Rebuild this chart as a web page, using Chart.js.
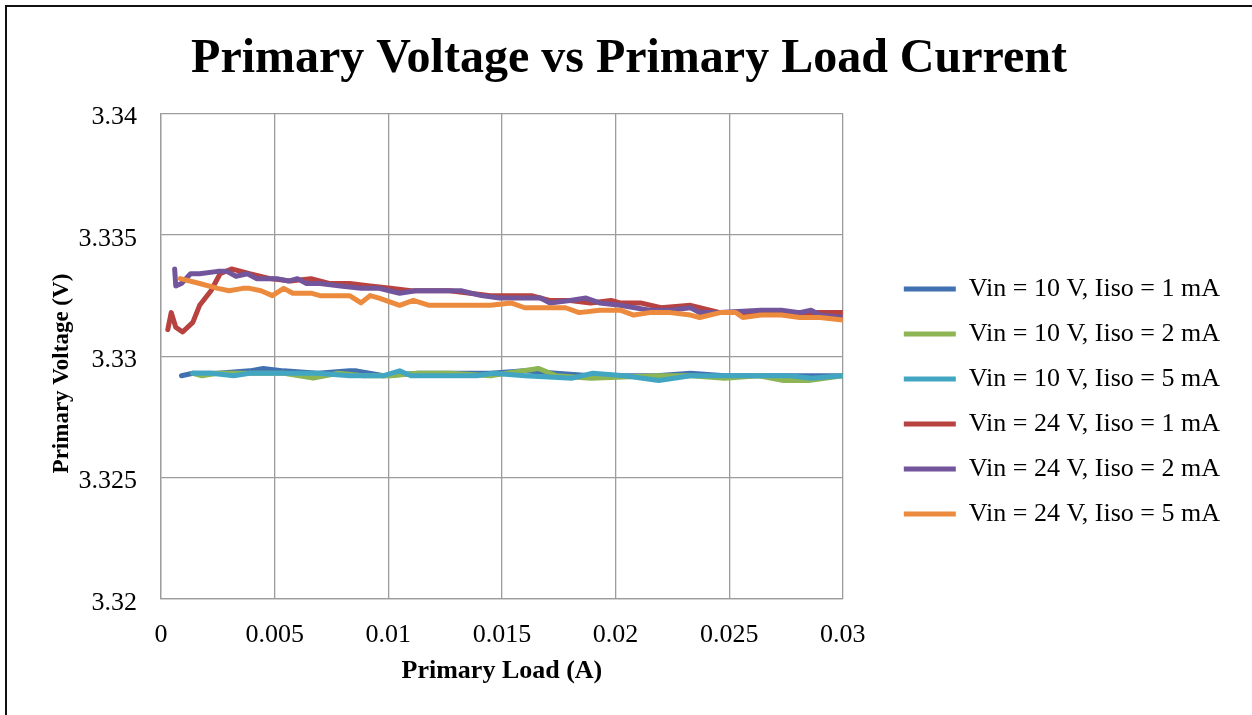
<!DOCTYPE html>
<html>
<head>
<meta charset="utf-8">
<title>Primary Voltage vs Primary Load Current</title>
<script src="https://cdn.jsdelivr.net/npm/chart.js@4"></script>
<style>
  html, body { margin: 0; padding: 0; background: #fff; overflow: hidden; }
  #frame { position: absolute; left: 5px; top: 5px; width: 1400px; height: 900px;
           border-left: 2px solid #111; border-top: 2px solid #111; }
  #wrap { position: absolute; left: 0; top: 0; width: 1252px; height: 715px; }
</style>
</head>
<body>
<div id="frame"></div>
<div id="wrap"><canvas id="chart" width="1252" height="715"></canvas></div>
<script>
// measured primary rail vs load current, one pair of arrays per test condition
const load10v1 = [0.0009, 0.0014, 0.0025, 0.0039, 0.0045, 0.0054, 0.0069, 0.0083, 0.0086, 0.0098, 0.0113, 0.0127, 0.0145, 0.016, 0.0174, 0.0189, 0.0204, 0.0218, 0.0233, 0.0248, 0.0263, 0.0277, 0.0292, 0.03];
const volt10v1 = [3.3292, 3.3293, 3.3293, 3.3294, 3.3295, 3.3294, 3.3293, 3.3294, 3.3294, 3.3292, 3.3293, 3.3293, 3.3293, 3.3294, 3.3293, 3.3292, 3.3292, 3.3292, 3.3293, 3.3292, 3.3292, 3.3292, 3.3292, 3.3292];

const load10v2 = [0.0014, 0.0018, 0.0025, 0.0039, 0.0054, 0.0067, 0.0078, 0.0089, 0.0101, 0.0113, 0.0127, 0.0145, 0.0166, 0.0174, 0.0189, 0.0218, 0.0233, 0.0248, 0.0263, 0.0274, 0.0285, 0.03];
const volt10v2 = [3.3293, 3.3292, 3.3293, 3.3293, 3.3293, 3.3291, 3.3293, 3.3292, 3.3292, 3.3293, 3.3293, 3.3292, 3.3295, 3.3292, 3.3291, 3.3292, 3.3292, 3.3291, 3.3292, 3.3290, 3.3290, 3.3292];

const load10v5 = [0.0014, 0.0022, 0.0032, 0.0039, 0.0054, 0.0069, 0.0083, 0.0098, 0.0105, 0.011, 0.0127, 0.0139, 0.0146, 0.016, 0.0181, 0.019, 0.0204, 0.0219, 0.0233, 0.0248, 0.0263, 0.0277, 0.0286, 0.03];
const volt10v5 = [3.3293, 3.3293, 3.3292, 3.3293, 3.3293, 3.3293, 3.3292, 3.3292, 3.3294, 3.3292, 3.3292, 3.3292, 3.3293, 3.3292, 3.3291, 3.3293, 3.3292, 3.3290, 3.3292, 3.3292, 3.3292, 3.3292, 3.3291, 3.3292];

const load24v1 = [0.0003, 0.00045, 0.00065, 0.00095, 0.0014, 0.0017, 0.0022, 0.0026, 0.0031, 0.0039, 0.0048, 0.0057, 0.0066, 0.0074, 0.0083, 0.0092, 0.0101, 0.011, 0.0118, 0.0127, 0.0136, 0.0145, 0.0154, 0.0163, 0.0171, 0.018, 0.0189, 0.0198, 0.0202, 0.0211, 0.022, 0.0233, 0.0246, 0.0264, 0.0281, 0.029, 0.03];
const volt24v1 = [3.3311, 3.3318, 3.3312, 3.3310, 3.3314, 3.3321, 3.3327, 3.3334, 3.3336, 3.3334, 3.3332, 3.3331, 3.3332, 3.3330, 3.3330, 3.3329, 3.3328, 3.3327, 3.3327, 3.3327, 3.3326, 3.3325, 3.3325, 3.3325, 3.3323, 3.3323, 3.3322, 3.3323, 3.3322, 3.3322, 3.3320, 3.3321, 3.3318, 3.3318, 3.3318, 3.3318, 3.3318];

const load24v2 = [0.0006, 0.00065, 0.0009, 0.0013, 0.0017, 0.0025, 0.0029, 0.0033, 0.0038, 0.0042, 0.0047, 0.0051, 0.0056, 0.006, 0.0064, 0.007, 0.0079, 0.0088, 0.0096, 0.0105, 0.0112, 0.0123, 0.0132, 0.0141, 0.0149, 0.0158, 0.0167, 0.0171, 0.018, 0.0187, 0.0193, 0.0202, 0.0215, 0.0224, 0.0233, 0.0237, 0.0246, 0.0264, 0.0273, 0.0281, 0.0286, 0.029, 0.03];
const volt24v2 = [3.3336, 3.3329, 3.3330, 3.3334, 3.3334, 3.3335, 3.3335, 3.3333, 3.3334, 3.3332, 3.3332, 3.3332, 3.3331, 3.3332, 3.3330, 3.3330, 3.3329, 3.3328, 3.3328, 3.3326, 3.3327, 3.3327, 3.3327, 3.3325, 3.3324, 3.3324, 3.3324, 3.3322, 3.3323, 3.3324, 3.3322, 3.3321, 3.3319, 3.3319, 3.3320, 3.3318, 3.3318, 3.3319, 3.3319, 3.3318, 3.3319, 3.3317, 3.3316];

const load24v5 = [0.00085, 0.0017, 0.0025, 0.003, 0.0036, 0.0039, 0.0044, 0.0049, 0.0054, 0.0058, 0.0066, 0.007, 0.0083, 0.0088, 0.0092, 0.0096, 0.0105, 0.0111, 0.0118, 0.0132, 0.0145, 0.0154, 0.016, 0.0171, 0.0178, 0.0184, 0.0193, 0.0202, 0.0208, 0.0215, 0.0224, 0.0233, 0.0237, 0.0246, 0.0253, 0.0256, 0.0264, 0.0273, 0.0281, 0.029, 0.03];
const volt24v5 = [3.3332, 3.3330, 3.3328, 3.3327, 3.3328, 3.3328, 3.3327, 3.3325, 3.3328, 3.3326, 3.3326, 3.3325, 3.3325, 3.3322, 3.3325, 3.3324, 3.3321, 3.3323, 3.3321, 3.3321, 3.3321, 3.3322, 3.3320, 3.3320, 3.3320, 3.3318, 3.3319, 3.3319, 3.3317, 3.3318, 3.3318, 3.3317, 3.3316, 3.3318, 3.3318, 3.3316, 3.3317, 3.3317, 3.3316, 3.3316, 3.3315];

const seriesNames = [
  "Vin = 10 V, Iiso = 1 mA",
  "Vin = 10 V, Iiso = 2 mA",
  "Vin = 10 V, Iiso = 5 mA",
  "Vin = 24 V, Iiso = 1 mA",
  "Vin = 24 V, Iiso = 2 mA",
  "Vin = 24 V, Iiso = 5 mA"
];
const xTickLabels = ["0", "0.005", "0.01", "0.015", "0.02", "0.025", "0.03"];
const yTickLabels = ["3.32", "3.325", "3.33", "3.335", "3.34"];

const SERIF = "'Liberation Serif', 'Times New Roman', serif";
const colors = ["#4171b0", "#8db554", "#42a6c2", "#b7423f", "#72559a", "#ec8a3d"];
const loads = [load10v1, load10v2, load10v5, load24v1, load24v2, load24v5];
const volts = [volt10v1, volt10v2, volt10v5, volt24v1, volt24v2, volt24v5];

function pts(xs, ys) { return xs.map((x, i) => ({ x: x, y: ys[i] })); }

// reversed so the last series sits on top; legend flips it back
const datasets = seriesNames.map((name, i) => ({
  label: name,
  data: pts(loads[i], volts[i]),
  borderColor: colors[i],
  backgroundColor: colors[i],
  borderWidth: 5,
  borderCapStyle: "round",
  borderJoinStyle: "round",
  pointRadius: 0,
  tension: 0,
  fill: false
})).reverse();

const grid = { color: "#9c9c9c", lineWidth: 1.3, drawTicks: false };

new Chart(document.getElementById("chart"), {
  type: "line",
  data: { datasets },
  options: {
    responsive: false,
    animation: false,
    layout: { padding: { top: 10, left: 28, right: 22, bottom: 28 } },
    plugins: {
      title: {
        display: true,
        text: "Primary Voltage vs Primary Load Current",
        color: "#000",
        font: { family: SERIF, size: 48, weight: "bold" },
        padding: { top: 21, bottom: 25 }
      },
      legend: {
        position: "right",
        reverse: true,
        maxWidth: 400,
        title: { display: true, text: " ", font: { size: 10 }, padding: { top: 94, bottom: 0 } },
        labels: {
          usePointStyle: true,
          pointStyle: "line",
          pointStyleWidth: 52,
          padding: 19,
          color: "#000",
          font: { family: SERIF, size: 26 }
        }
      },
      tooltip: { enabled: false }
    },
    scales: {
      x: {
        type: "linear",
        min: 0,
        max: 0.03,
        grid: grid,
        border: { color: "#9c9c9c", width: 1.3 },
        ticks: {
          stepSize: 0.005,
          padding: 21,
          color: "#000",
          font: { family: SERIF, size: 26 },
          callback: (v, i) => xTickLabels[i]
        },
        title: {
          display: true,
          text: "Primary Load (A)",
          color: "#000",
          font: { family: SERIF, size: 26, weight: "bold" },
          padding: { top: 0, bottom: 0 }
        },
        afterFit: (s) => { s.height = 88; }
      },
      y: {
        type: "linear",
        min: 3.32,
        max: 3.34,
        grid: grid,
        border: { color: "#9c9c9c", width: 1.3 },
        ticks: {
          stepSize: 0.005,
          padding: 24,
          labelOffset: 4,
          color: "#000",
          font: { family: SERIF, size: 26 },
          callback: (v, i) => yTickLabels[i]
        },
        title: {
          display: true,
          // trailing spaces nudge the rotated caption down the axis
          text: "Primary Voltage (V)      ",
          color: "#000",
          font: { family: SERIF, size: 23, weight: "bold" },
          padding: { top: 20, bottom: 0 }
        },
        afterFit: (s) => { s.width = 133; }
      },
      // empty right-hand axis, only keeps the legend clear of the plot
      gap: {
        type: "linear",
        position: "right",
        grid: { display: false },
        border: { display: false },
        ticks: { display: false },
        afterFit: (s) => { s.width = 42; }
      }
    }
  }
});
</script>
</body>
</html>
